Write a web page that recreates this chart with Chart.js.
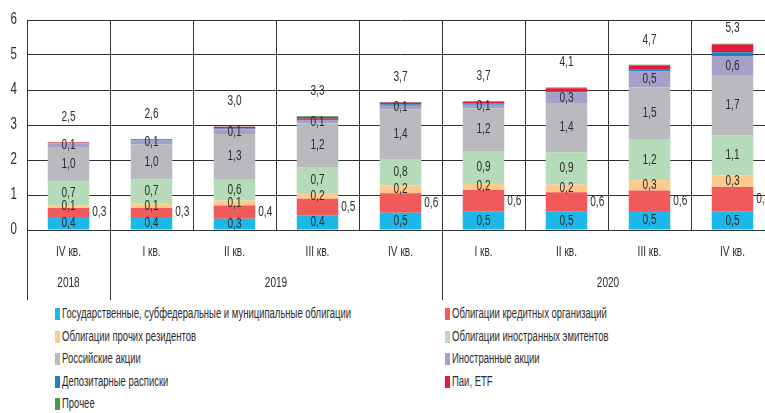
<!DOCTYPE html>
<html>
<head>
<meta charset="utf-8">
<script src="https://cdn.jsdelivr.net/npm/chart.js@4/dist/chart.umd.min.js"></script>
<style>
html,body{margin:0;padding:0;background:#fff;overflow:hidden;width:765px;height:413px;}
#wrap{position:absolute;left:0;top:0;width:775px;height:300px;}
#legend{position:absolute;left:0;top:305px;width:765px;font-family:'Liberation Sans',Arial,sans-serif;font-size:14px;color:#2b2b2b;}
.item{position:absolute;white-space:nowrap;line-height:16px;}
.item i{display:inline-block;width:5px;height:12px;margin-right:2px;vertical-align:-2px;}
.item span{display:inline-block;transform-origin:left center;}
</style>
</head>
<body>
<div id="wrap"><canvas id="chart" width="775" height="300"></canvas></div>
<div id="legend"></div>
<script>
const FONT = "'Liberation Sans',Arial,sans-serif";
const SX = 0.72;

const quarters = ['IV кв.','I кв.','II кв.','III кв.','IV кв.','I кв.','II кв.','III кв.','IV кв.'];
const years = [['2018',0,0],['2019',1,4],['2020',5,8]];
const yTicks = [0,1,2,3,4,5,6];

const govBonds      = [0.37,0.37,0.32,0.42,0.49,0.52,0.52,0.54,0.52];
const creditBonds   = [0.26,0.26,0.38,0.47,0.56,0.62,0.56,0.59,0.71];
const otherResBonds = [0.08,0.12,0.14,0.17,0.22,0.20,0.22,0.29,0.33];
const foreignBonds  = [0.68,0.70,0.62,0.74,0.76,0.92,0.92,1.18,1.14];
const ruShares      = [0.98,0.99,1.28,1.24,1.42,1.22,1.41,1.47,1.71];
const foreignShares = [0.10,0.12,0.14,0.10,0.10,0.10,0.30,0.46,0.56];
const depReceipts   = [0.01,0.01,0.02,0.04,0.04,0.04,0.04,0.05,0.11];
const fundsEtf      = [0.02,0.01,0.05,0.05,0.05,0.05,0.08,0.12,0.22];
const otherAssets   = [0.01,0.02,0.01,0.02,0.02,0.01,0.02,0.02,0.02];

const series = [
    ['Государственные, субфедеральные и муниципальные облигации', govBonds, '#1db8ea', 'in'],
    ['Облигации кредитных организаций', creditBonds, '#f05a5b', 'right'],
    ['Облигации прочих резидентов', otherResBonds, '#fdca8c', 'in'],
    ['Облигации иностранных эмитентов', foreignBonds, '#b5dbb8', 'in'],
    ['Российские акции', ruShares, '#b9babd', 'in'],
    ['Иностранные акции', foreignShares, '#a69fc7', 'in'],
    ['Депозитарные расписки', depReceipts, '#1b84c4', 'none'],
    ['Паи, ETF', fundsEtf, '#e8173c', 'none'],
    ['Прочее', otherAssets, '#4a9a49', 'none']
];

function fmt(v){
    return v.toFixed(1).replace('.', ',');
}

// narrow text: the source uses a condensed face, so squeeze horizontally
function narrowText(ctx, text, x, y, align){
    const w = ctx.measureText(text).width * SX;
    let left = x;
    if(align==='center') left = x - w/2;
    if(align==='right') left = x - w;
    ctx.save();
    ctx.translate(left, y);
    ctx.scale(SX, 1);
    ctx.textAlign = 'left';
    ctx.fillText(text, 0, 0);
    ctx.restore();
}

const labelPlugin = {
    id:'labels',
    afterDatasetsDraw(chart){
        const ctx = chart.ctx;
        ctx.save();
        ctx.font = '14px ' + FONT;
        ctx.fillStyle = '#2b2b2b';
        ctx.textBaseline = 'middle';
        series.forEach((s,di)=>{
            if(s[3]==='none') return;
            chart.getDatasetMeta(di).data.forEach((bar,i)=>{
                const mid = (bar.y + bar.base)/2;
                if(s[3]==='right') narrowText(ctx, fmt(s[1][i]), bar.x + bar.width/2 + 3, mid, 'left');
                else narrowText(ctx, fmt(s[1][i]), bar.x, mid, 'center');
            });
        });
        chart.getDatasetMeta(series.length-1).data.forEach((bar,i)=>{
            const total = series.reduce((a,s)=>a+s[1][i],0);
            narrowText(ctx, fmt(total), bar.x, Math.max(bar.y - 25, chart.chartArea.top + 8), 'center');
        });
        ctx.restore();
    }
};

const axisPlugin = {
    id:'axisText',
    afterDraw(chart){
        const ctx = chart.ctx;
        const x = chart.scales.x;
        const y = chart.scales.y;
        const area = chart.chartArea;
        const half = (x.getPixelForValue(1) - x.getPixelForValue(0))/2;
        ctx.save();
        ctx.strokeStyle = '#333';
        ctx.lineWidth = 1;
        ctx.beginPath();
        ctx.moveTo(Math.round(area.left)+0.5, area.bottom);
        ctx.lineTo(Math.round(area.left)+0.5, 300);
        years.forEach(yr=>{
            if(yr[1]===0) return;
            const px = Math.round(x.getPixelForValue(yr[1]) - half)+0.5;
            ctx.moveTo(px, area.bottom);
            ctx.lineTo(px, 300);
        });
        ctx.stroke();
        ctx.fillStyle = '#2b2b2b';
        ctx.textBaseline = 'middle';
        ctx.font = '14px ' + FONT;
        quarters.forEach((q,i)=>narrowText(ctx, q, x.getPixelForValue(i), 252, 'center'));
        years.forEach(yr=>{
            const cx = (x.getPixelForValue(yr[1]) + x.getPixelForValue(yr[2]))/2;
            narrowText(ctx, yr[0], cx, 283, 'center');
        });
        ctx.font = '16px ' + FONT;
        yTicks.forEach(t=>narrowText(ctx, String(t), 17, y.getPixelForValue(t), 'right'));
        ctx.restore();
    }
};

function drawChart(){
    const ctx = document.getElementById('chart').getContext('2d');
    new Chart(ctx,{
        type:'bar',
        data:{
            labels:quarters,
            datasets:series.map(s=>({label:s[0],data:s[1],backgroundColor:s[2],borderWidth:0,barPercentage:0.5,categoryPercentage:1}))
        },
        options:{
            responsive:false,
            animation:false,
            devicePixelRatio:1,
            layout:{padding:{top:20,right:1,left:0,bottom:0}},
            plugins:{legend:{display:false},tooltip:{enabled:false}},
            scales:{
                x:{
                    stacked:true,
                    grid:{color:'#333',lineWidth:1,drawTicks:false,offset:true},
                    border:{color:'#333'},
                    ticks:{display:false},
                    afterFit:s=>{s.height = 70;}
                },
                y:{
                    stacked:true,
                    min:0,max:6,
                    grid:{color:'#333',lineWidth:1,drawTicks:false},
                    border:{display:false},
                    ticks:{display:false,stepSize:1},
                    afterFit:s=>{s.width = 27;}
                }
            }
        },
        plugins:[labelPlugin,axisPlugin]
    });
}

function buildLegend(){
    const box = document.getElementById('legend');
    const spans = [];
    series.forEach((s,i)=>{
        const d = document.createElement('div');
        d.className = 'item';
        d.style.left = (i%2 ? 445 : 55) + 'px';
        d.style.top = (Math.floor(i/2)*22.5) + 'px';
        d.innerHTML = `<i style="background:${s[2]}"></i><span>${s[0]}</span>`;
        box.appendChild(d);
        spans.push(d.querySelector('span'));
    });
    const k = 289 / spans[0].getBoundingClientRect().width;
    spans.forEach(sp=>{sp.style.transform = `scaleX(${k})`;});
}

drawChart();
buildLegend();
</script>
</body>
</html>
